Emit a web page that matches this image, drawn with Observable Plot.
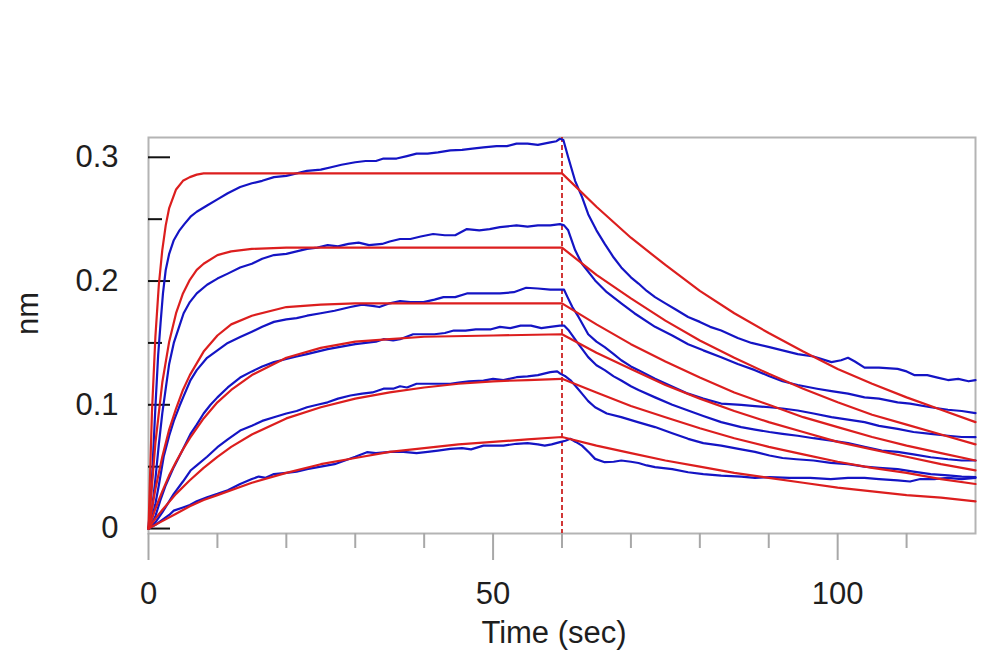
<!DOCTYPE html>
<html><head><meta charset="utf-8">
<script src="https://cdn.jsdelivr.net/npm/d3@7"></script>
<script src="https://cdn.jsdelivr.net/npm/@observablehq/plot@0.6"></script>
<style>body{margin:0;background:#fff} svg{display:block}</style>
</head><body><div id="chart"></div>
<script>
const xLabel = "Time (sec)";
const yLabel = "nm";
const xMajorTicks = [0, 50, 100];
const xMinorTicks = [10, 20, 30, 40, 60, 70, 80, 90, 110];
const yMajorTicks = [0, 0.1, 0.2, 0.3];
const yTickLabels = ["0", "0.1", "0.2", "0.3"];
const yMinorTicks = [0.05, 0.15, 0.25];
const injectionTime = [60];

// measured sensorgrams (blue), [time, response]
const blue1 = [[0,0],[0.5,0.04],[1,0.098],[1.4,0.14],[1.75,0.166],[2.1,0.19],[2.5,0.209],[3,0.222],[3.67,0.233],[4.5,0.241],[5.2,0.246],[6.1,0.252],[7,0.256],[8.5,0.261],[10,0.266],[11.5,0.271],[13.3,0.276],[15,0.279],[16.5,0.281],[18.2,0.284],[20,0.285],[21.5,0.287],[23,0.289],[25,0.290],[26.5,0.292],[28,0.294],[30,0.296],[31.5,0.297],[33,0.297],[34.1,0.299],[36,0.299],[37.5,0.301],[38.9,0.303],[40.5,0.303],[42,0.304],[43.8,0.3056],[45.5,0.306],[47,0.307],[48.6,0.308],[50.5,0.309],[52,0.309],[53.4,0.311],[55,0.311],[56.5,0.310],[58.3,0.312],[59.2,0.313],[59.7,0.315],[60.2,0.314],[60.9,0.300],[61.9,0.281],[62.9,0.268],[63.8,0.254],[65,0.241],[66.2,0.230],[67.5,0.219],[68.6,0.211],[70,0.203],[71.1,0.198],[72.3,0.192],[73.5,0.187],[75,0.182],[76.5,0.177],[78.3,0.171],[80,0.167],[81.5,0.163],[83.1,0.160],[85.5,0.154],[87.5,0.150],[90.1,0.1466],[92,0.144],[94.2,0.141],[96.5,0.139],[99.1,0.1345],[100.5,0.136],[101.5,0.138],[102.5,0.135],[103.9,0.130],[106,0.130],[108.7,0.129],[110,0.127],[111.1,0.124],[113,0.124],[114.5,0.122],[116,0.120],[117.5,0.121],[119,0.119],[120,0.120]];
const blue2 = [[0,0],[0.5,0.015],[1,0.04],[1.5,0.068],[2,0.093],[2.5,0.113],[3,0.133],[3.67,0.150],[4.5,0.164],[5.1,0.174],[6,0.183],[7,0.190],[8.5,0.197],[10,0.202],[11.5,0.206],[13.3,0.211],[15,0.214],[16.5,0.218],[18.2,0.221],[20,0.222],[21.5,0.224],[23,0.226],[24.5,0.227],[26,0.229],[27.5,0.228],[29,0.230],[30.5,0.231],[32,0.229],[33.9,0.230],[35,0.232],[36.5,0.234],[38,0.234],[39.5,0.236],[41.3,0.238],[43,0.237],[44.5,0.237],[46.2,0.242],[48,0.241],[49.5,0.242],[51,0.2436],[53.4,0.245],[55,0.244],[56.5,0.245],[58.3,0.245],[59.7,0.246],[60.3,0.245],[60.9,0.241],[61.9,0.225],[62.9,0.214],[64.8,0.2005],[66.5,0.191],[68.6,0.182],[70.5,0.174],[73.5,0.163],[76,0.156],[78.3,0.149],[80.5,0.144],[83.1,0.1385],[85.5,0.133],[88,0.128],[90.1,0.123],[92,0.119],[94.2,0.116],[97,0.113],[99.1,0.111],[101.5,0.109],[103.9,0.106],[106,0.105],[108.7,0.102],[110.5,0.101],[113.5,0.098],[116,0.096],[118,0.095],[120,0.0933]];
const blue3 = [[0,0],[0.5,0.008],[1,0.02],[1.5,0.035],[2.2,0.058],[3,0.075],[3.67,0.087],[4.5,0.099],[5.1,0.107],[6.1,0.120],[7,0.128],[8.5,0.138],[10,0.144],[11.5,0.150],[13.3,0.1547],[15,0.159],[16.5,0.163],[18.2,0.167],[20,0.169],[21.5,0.170],[23,0.172],[25,0.174],[27,0.176],[29.3,0.179],[31,0.181],[32.5,0.180],[33.5,0.179],[35,0.182],[36.5,0.1838],[38,0.183],[39.9,0.183],[41.5,0.185],[42.8,0.187],[44.5,0.187],[46.2,0.190],[48,0.190],[51,0.190],[53,0.191],[54.8,0.1946],[56.5,0.194],[58.3,0.193],[59.7,0.193],[60.3,0.193],[60.8,0.187],[61.5,0.179],[62.4,0.171],[63.8,0.157],[65,0.151],[66.2,0.1466],[67.5,0.141],[68.6,0.136],[70,0.131],[71.1,0.128],[73.5,0.121],[75.5,0.116],[78.3,0.109],[80.5,0.105],[83.1,0.101],[86,0.100],[88,0.099],[90.1,0.098],[92,0.097],[94.2,0.0954],[96.5,0.093],[99.1,0.090],[101.5,0.088],[103.9,0.086],[106,0.083],[108.7,0.0806],[111,0.078],[113.5,0.0765],[116,0.075],[118,0.074],[120,0.0738]];
const blue4 = [[0,0],[0.5,0.004],[1,0.01],[1.7,0.0226],[2.5,0.035],[3.67,0.0496],[5,0.064],[6.1,0.0765],[7,0.084],[8,0.093],[9,0.100],[10,0.106],[11.5,0.114],[13.3,0.122],[15,0.127],[16.5,0.131],[18.2,0.1345],[20,0.137],[21.5,0.139],[23,0.141],[24.5,0.143],[26,0.145],[28,0.147],[30,0.149],[31.5,0.150],[33,0.151],[34.1,0.153],[35.5,0.152],[36.5,0.153],[38.4,0.157],[40,0.157],[41.5,0.157],[43,0.158],[44.3,0.160],[46,0.160],[47.5,0.161],[49.7,0.161],[51,0.163],[52.5,0.162],[54,0.164],[55.5,0.164],[57,0.162],[58.3,0.163],[59.7,0.164],[60.3,0.164],[61,0.160],[62.4,0.149],[63.8,0.1385],[65,0.132],[66.2,0.128],[67.5,0.123],[68.6,0.1196],[70,0.115],[71.1,0.112],[73.5,0.106],[76,0.100],[78.3,0.0954],[80.5,0.091],[83.1,0.086],[86,0.082],[88,0.080],[90.1,0.078],[92,0.0765],[94.2,0.075],[96.5,0.073],[99.1,0.0711],[101.5,0.069],[103.9,0.066],[106.4,0.063],[108.7,0.062],[111,0.060],[113.5,0.0576],[116,0.056],[118,0.055],[120,0.055]];
const blue5 = [[0,0],[0.5,0.002],[1,0.005],[2,0.013],[3,0.022],[3.67,0.028],[5,0.038],[6.1,0.0469],[7,0.051],[8.5,0.058],[10,0.0657],[11.5,0.072],[13.3,0.0792],[15,0.083],[16.5,0.087],[18.2,0.090],[20,0.093],[21.5,0.095],[23,0.098],[24.5,0.100],[26,0.102],[27.5,0.105],[29.3,0.1075],[31,0.109],[32.5,0.110],[34.1,0.113],[35.5,0.113],[36.5,0.115],[37.5,0.114],[38.9,0.117],[40.5,0.117],[42,0.117],[43.8,0.117],[45,0.118],[46.5,0.119],[48.6,0.1196],[50,0.121],[51.5,0.120],[53.4,0.1223],[55,0.123],[56.5,0.124],[58.3,0.1264],[59.3,0.127],[59.8,0.125],[60.5,0.123],[61.2,0.120],[62,0.115],[62.9,0.109],[63.8,0.103],[64.8,0.098],[66.5,0.093],[68.6,0.090],[71,0.086],[73.5,0.082],[76,0.077],[78.3,0.0725],[80.5,0.069],[83.1,0.067],[86,0.064],[88,0.062],[90.1,0.059],[92,0.057],[94,0.056],[96.5,0.055],[99,0.053],[101.5,0.052],[103.9,0.050],[106,0.049],[108.7,0.048],[111,0.046],[113.5,0.044],[116,0.043],[118,0.042],[120,0.0415]];
const blue6 = [[0,0],[1,0.003],[2,0.007],[3,0.011],[3.67,0.0145],[5,0.017],[6,0.019],[7,0.022],[8.5,0.0253],[10,0.028],[11.5,0.031],[13.3,0.036],[15,0.040],[16,0.042],[17,0.041],[18.2,0.044],[20,0.045],[21.5,0.046],[23,0.048],[25,0.050],[27,0.052],[28.5,0.055],[30,0.058],[31.7,0.0617],[33,0.061],[35.1,0.062],[37,0.062],[38.9,0.061],[40.5,0.062],[42,0.063],[43.8,0.0644],[45.5,0.065],[46.8,0.064],[48.6,0.067],[50,0.067],[51.5,0.067],[53.4,0.0685],[55,0.069],[56.5,0.068],[57.5,0.067],[58.5,0.068],[59.7,0.0698],[60.5,0.071],[61.2,0.0725],[62,0.070],[62.9,0.067],[64,0.061],[64.8,0.0563],[66.2,0.0536],[67.5,0.054],[68.6,0.055],[70,0.054],[71.1,0.053],[72.3,0.051],[73.5,0.0496],[76,0.048],[78.3,0.0455],[80.5,0.044],[83.1,0.0428],[86,0.042],[88,0.041],[90.1,0.0415],[93,0.041],[96,0.041],[99,0.040],[101.5,0.041],[103.9,0.041],[106,0.040],[108.7,0.039],[110.5,0.038],[112,0.040],[114,0.040],[116,0.041],[118,0.040],[120,0.041]];

// global 1:1 fit curves (red), [time, response]
const fit1 = [[0,0],[0.5,0.094],[1,0.155],[1.5,0.197],[2,0.225],[2.5,0.245],[3,0.259],[4,0.274],[5,0.281],[6,0.284],[7,0.286],[8,0.287],[60,0.287],[65,0.260],[70,0.235],[75,0.213],[80,0.192],[85,0.174],[90,0.158],[95,0.143],[100,0.129],[105,0.117],[110,0.106],[115,0.096],[120,0.086]];
const fit2 = [[0,0],[1,0.069],[2,0.118],[3,0.151],[4,0.174],[5,0.190],[6,0.201],[7,0.209],[8,0.214],[10,0.221],[12,0.224],[15,0.226],[20,0.227],[60,0.227],[65,0.205],[70,0.186],[75,0.168],[80,0.152],[85,0.138],[90,0.125],[95,0.113],[100,0.102],[105,0.092],[110,0.084],[115,0.076],[120,0.068]];
const fit3 = [[0,0],[1,0.032],[2,0.058],[3,0.080],[4,0.097],[5,0.112],[6,0.124],[8,0.143],[10,0.156],[12,0.165],[15,0.172],[20,0.179],[25,0.181],[30,0.182],[60,0.182],[65,0.165],[70,0.149],[75,0.135],[80,0.122],[85,0.110],[90,0.100],[95,0.090],[100,0.082],[105,0.074],[110,0.067],[115,0.061],[120,0.055]];
const fit4 = [[0,0],[1,0.016],[2,0.030],[3,0.043],[4,0.054],[5,0.064],[6,0.073],[8,0.089],[10,0.102],[12,0.112],[15,0.124],[20,0.138],[25,0.146],[30,0.151],[35,0.153],[40,0.155],[50,0.156],[60,0.157],[65,0.142],[70,0.129],[75,0.116],[80,0.105],[85,0.095],[90,0.086],[95,0.078],[100,0.070],[105,0.064],[110,0.058],[115,0.052],[120,0.047]];
const fit5 = [[0,0],[1,0.008],[2,0.015],[4,0.028],[6,0.039],[8,0.049],[10,0.058],[12,0.066],[15,0.076],[20,0.089],[25,0.098],[30,0.105],[35,0.110],[40,0.114],[45,0.117],[50,0.119],[55,0.120],[60,0.121],[65,0.110],[70,0.099],[75,0.090],[80,0.081],[85,0.073],[90,0.066],[95,0.060],[100,0.054],[105,0.049],[110,0.045],[115,0.040],[120,0.036]];
const fit6 = [[0,0],[2,0.006],[4,0.012],[6,0.018],[8,0.023],[10,0.027],[15,0.037],[20,0.045],[25,0.052],[30,0.057],[35,0.062],[40,0.065],[45,0.068],[50,0.070],[55,0.072],[60,0.074],[65,0.067],[70,0.061],[75,0.055],[80,0.050],[85,0.045],[90,0.041],[95,0.037],[100,0.033],[105,0.030],[110,0.027],[115,0.025],[120,0.022]];

const measured = [blue1, blue2, blue3, blue4, blue5, blue6];
const fits = [fit1, fit2, fit3, fit4, fit5, fit6];
const toRows = (list) => list.flatMap((s, i) => s.map(([t, v]) => ({t, v, id: i})));
const measuredRows = toRows(measured);
const fitRows = toRows(fits);
const yFormat = (d) => yTickLabels[yMajorTicks.indexOf(d)];

const BLUE = "#1414c4", RED = "#dc1e1e";

const chart = Plot.plot({
  width: 1000, height: 670,
  marginLeft: 148, marginRight: 25, marginTop: 137, marginBottom: 137,
  x: {domain: [0, 120]},
  y: {domain: [-0.004, 0.316]},
  style: {fontFamily: "'Liberation Sans', Arial, sans-serif", fontSize: "31px", color: "#1e1e1e", background: "white"},
  marks: [
    Plot.frame({stroke: "#b4b4b4", strokeWidth: 2}),
    Plot.axisX({ticks: xMajorTicks, tickSize: 27, stroke: "#a8a8a8", strokeWidth: 2, fill: "none", label: null}),
    Plot.axisX({ticks: xMinorTicks, tickSize: 15, stroke: "#a8a8a8", strokeWidth: 2, fill: "none", label: null}),
    Plot.axisX({ticks: xMajorTicks, tickSize: 0, tickPadding: 48, label: null}),
    Plot.axisY({ticks: yMajorTicks, tickSize: 22, dx: 22, stroke: "#111", strokeWidth: 2, fill: "none", label: null}),
    Plot.axisY({ticks: yMinorTicks, tickSize: 14, dx: 14, stroke: "#111", strokeWidth: 2, fill: "none", label: null}),
    Plot.axisY({ticks: yMajorTicks, tickSize: 0, tickPadding: 30, tickFormat: yFormat, label: null}),
    Plot.ruleX(injectionTime, {stroke: "#cc2222", strokeWidth: 1.8, strokeDasharray: "5,3"}),
    Plot.line(measuredRows, {x: "t", y: "v", z: "id", stroke: BLUE, strokeWidth: 2.2}),
    Plot.line(fitRows, {x: "t", y: "v", z: "id", stroke: RED, strokeWidth: 2.2}),
    Plot.text([xLabel], {frameAnchor: "bottom", lineAnchor: "middle", textAnchor: "middle", dx: -8, dy: 100, text: d => d}),
    Plot.text([yLabel], {frameAnchor: "left", lineAnchor: "middle", textAnchor: "middle", rotate: -90, dx: -120, dy: -22, text: d => d})
  ]
});
document.getElementById("chart").append(chart);
</script>
</body></html>
